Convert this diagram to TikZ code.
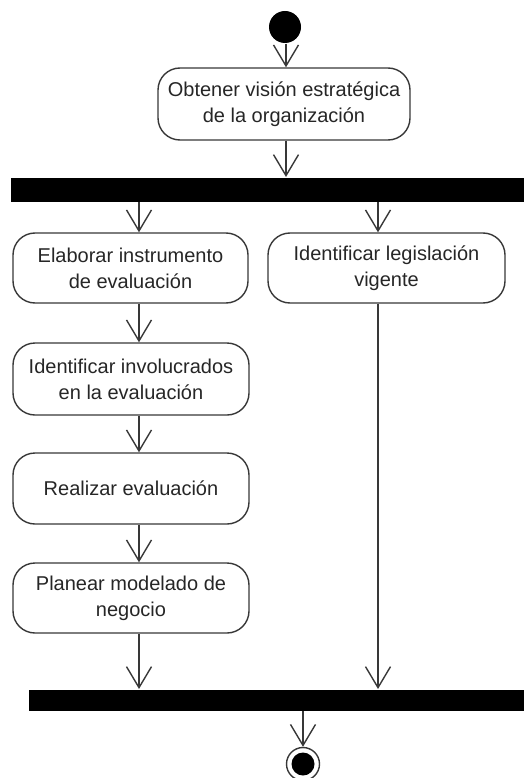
\documentclass[tikz,border=0pt]{standalone}
\usepackage{fontspec}
\setmainfont{Liberation Sans}
\usetikzlibrary{arrows.meta}
\begin{document}
\begin{tikzpicture}[x=1pt,y=-1pt,
  line width=1.4pt,
  action/.style={draw=black!78, line width=1.4pt, rounded corners=22pt,
    minimum width=236pt, minimum height=71pt, align=center, inner sep=0pt,
    font=\fontsize{20}{26}\selectfont, text=black!85},
  syncbar/.style={fill=black, draw=none, inner sep=0pt, anchor=north west},
  flow/.style={draw=black!78, -{Straight Barb[length=21pt,width=25pt]}}
]
\useasboundingbox (0,0) rectangle (523,778);

% columns used by the connectors
\coordinate (cx) at (286,0);
\coordinate (lc) at (139,0);
\coordinate (rc) at (378,0);
\coordinate (ex) at (303,0);

% initial node
\node[circle, fill=black, minimum size=32pt, inner sep=0pt] (start) at (285,27) {};

% actions
\node[action, minimum width=252pt, minimum height=72pt] (obt) at (284,104)
  {Obtener visión estratégica\\de la organización};

% fork
\node[syncbar, minimum width=520pt, minimum height=24pt] (fork) at (10,177) {};

\node[action, minimum width=235pt, minimum height=70pt] (elab) at (130.5,268)
  {Elaborar instrumento\\de evaluación};
\node[action, minimum width=237pt, minimum height=70pt] (legis) at (386.5,268)
  {Identificar legislación\\vigente};
\node[action, minimum height=72pt] (invol) at (131,379)
  {Identificar involucrados\\en la evaluación};
\node[action] (real) at (131,488.5) {Realizar evaluación};
\node[action, minimum height=70pt] (plan) at (131,598)
  {Planear modelado de\\negocio};

% join
\node[syncbar, minimum width=502pt, minimum height=21pt] (join) at (28,689) {};

% final node
\node[circle, draw=black!78, line width=1.4pt, minimum size=33pt, inner sep=0pt] (final) at (303,764) {};
\node[circle, fill=black, minimum size=23pt, inner sep=0pt] (finaldot) at (final) {};

% control flow
\draw[flow] (start.south -| cx) -- (obt.north -| cx);
\draw[flow] (obt.south -| cx) -- (fork.north -| cx);
\draw[flow] (fork.south -| lc) -- (elab.north -| lc);
\draw[flow] (fork.south -| rc) -- (legis.north -| rc);
\draw[flow] (elab.south -| lc) -- (invol.north -| lc);
\draw[flow] (invol.south -| lc) -- (real.north -| lc);
\draw[flow] (real.south -| lc) -- (plan.north -| lc);
\draw[flow] (plan.south -| lc) -- (join.north -| lc);
\draw[flow] (legis.south -| rc) -- (join.north -| rc);
\draw[flow] (join.south -| ex) -- (final.north -| ex);
\end{tikzpicture}
\end{document}
